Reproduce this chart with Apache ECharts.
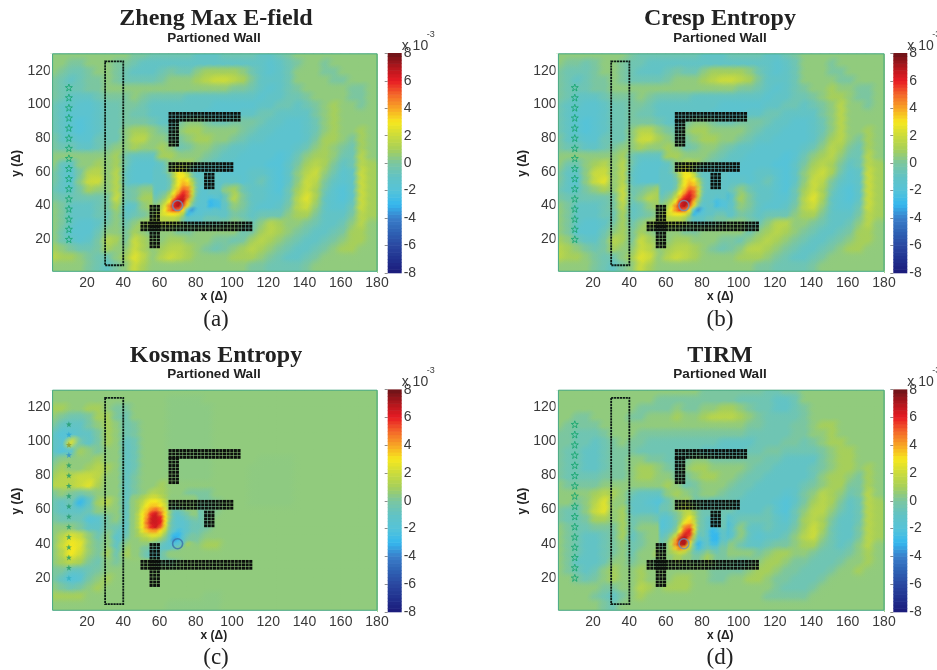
<!DOCTYPE html>
<html><head><meta charset="utf-8">
<style>html,body{margin:0;padding:0;background:#fff}#c{width:937px;height:670px}</style>
<script src="https://cdn.jsdelivr.net/npm/echarts@6/dist/echarts.min.js"></script>
</head><body><div id="c"></div>
<script>
// Field values (x 10^-3). Rows run y=127.5 down to 2.5, columns x=2.5 to 177.5, step 5.
const fieldA=[
[.5,.5,.5,.5,.5,.5,.5,.5,.5,0,0,-.5,-.5,-.5,-.5,-.5,-1,-1,-1,-.5,-.5,-.5,-.5,-1,-1,-.5,0,.5,.5,.5,.5,.5,.5,.5,.5,.5],
[.5,.5,0,0,.5,.5,.5,0,0,-.5,-1,-1,-1,-1,-1,-1,-1,-1,-1,-1,-1,-1,-1,-1,-1.5,-1,-.5,0,.5,.5,0,.5,.5,.5,.5,.5],
[.5,0,-.5,-.5,0,.5,.5,0,-.5,-1,-1,-1,-.5,0,-.5,-.5,.5,1,1,1,1,.5,-.5,-1,-1.5,-1,-.5,.5,.5,.5,0,0,.5,.5,.5,.5],
[0,-.5,-1,-.5,0,0,.5,0,-.5,-.5,-.5,-.5,0,.5,.5,.5,1,1.5,2,2,1.5,1,0,-1,-1,-1,-.5,.5,.5,.5,.5,0,0,.5,.5,.5],
[0,-.5,-.5,-.5,0,0,.5,.5,.5,.5,.5,.5,.5,.5,.5,.5,.5,.5,.5,.5,0,0,-.5,-1,-1.5,-1,-.5,0,.5,.5,.5,.5,.5,0,0,.5],
[0,-.5,-1,-1,-1,-.5,0,0,0,.5,0,-.5,-.5,-.5,-.5,-1,-1,-1,-1,-1,-1,-1,-1,-1.5,-1,-1,-.5,-.5,0,.5,.5,.5,.5,0,0,.5],
[-.5,-1,-1,-1.5,-1.5,-1,-.5,-.5,0,0,-.5,-1,-1,-1,-1,-1,-1,-1,-1.5,-1.5,-1.5,-1.5,-1.5,-1,-1,-.5,-.5,-1,-.5,0,.5,1,.5,.5,0,.5],
[-.5,-1,-1.5,-1.5,-1.5,-1,-.5,-.5,0,-.5,-.5,-1,-1,-1,-1,-1,-1,-1.5,-1.5,-1.5,-1.5,-1,-1,-.5,-.5,-1,-1,-1,-1,0,.5,1,.5,.5,.5,.5],
[-.5,-1,-1.5,-2,-1.5,-1,-.5,-.5,0,0,0,-.5,-1,-1,0,.5,.5,0,-.5,-.5,0,0,0,-.5,-1,-1,-1.5,-1.5,-1,-.5,.5,1,.5,.5,.5,.5],
[-.5,-1,-1.5,-2,-1.5,-1,-.5,-.5,.5,1,1,.5,0,-.5,.5,1,1,.5,.5,.5,.5,0,-.5,-1,-1,-1.5,-1.5,-1.5,-1,-.5,.5,1,.5,.5,1,.5],
[0,-1,-1,-1.5,-1.5,-.5,-.5,-.5,.5,1.5,1.5,.5,.5,0,0,.5,1,1,.5,.5,0,-.5,-1,-1,-1.5,-1.5,-1.5,-1.5,-1,0,1,1,.5,0,1,.5],
[0,-.5,-.5,-1,-1,-.5,0,.5,.5,1,.5,.5,1,.5,-.5,0,.5,.5,0,-.5,-1,-1,-1.5,-1.5,-1.5,-1.5,-1.5,-1,-.5,.5,1,.5,0,-.5,1,.5],
[.5,.5,.5,.5,.5,.5,.5,1,-.5,-1,-1,-1,1,1,.5,.5,.5,0,-.5,-1,-1,-1.5,-1.5,-1.5,-1.5,-2,-1.5,-.5,.5,1,1,.5,-.5,-.5,1.5,.5],
[.5,-1,-1,.5,.5,1,.5,1,-.5,-1.5,-1.5,-1.5,-1,.5,1,1,0,-.5,-1,-1,-1.5,-1.5,-1.5,-1.5,-2,-2,-1,0,1,1.5,1,0,-1,-.5,1.5,1],
[0,-1,-1.5,0,1.5,1.5,.5,1.5,-1,-1.5,-1.5,-1.5,-1,.5,3,2,-.5,-1,-1,-1.5,-1.5,-1.5,-1,-1,-1.5,-2,-1,.5,1.5,2,.5,-.5,-1.5,-1,2,1],
[0,-1,-1.5,.5,2,2,.5,1.5,-1,-1.5,-1.5,-1.5,-1,0,3.5,3,0,-1,-1.5,-1,-1,-1.5,-1,-.5,-1.5,-2,-1,.5,2,1.5,0,-1,-1.5,-1,2,1],
[-.5,-1,-1,0,1,.5,.5,1.5,-.5,0,.5,.5,-.5,1.5,5,3.5,-.5,-1.5,-1.5,.5,1,-.5,-1,-1,-1.5,-2,-.5,1,2,1,-.5,-1.5,-2,-1,2,1],
[0,-.5,-.5,-.5,-.5,-.5,0,2,-.5,0,1,1,0,3.5,7,3,-1,-2,-3,-.5,1.5,0,-1,-1,-1.5,-1.5,-.5,1.5,2.5,1,-1,-1.5,-2,-1,2,1],
[.5,0,-1,-1,-1,-.5,0,1,-1.5,-1,.5,1,0,3,6,2,-2,-3.5,-1.5,-1,.5,0,-1,-1.5,-1.5,-1,0,1.5,2,.5,-1,-1.5,-1.5,-.5,2,1],
[.5,0,-1,-1,-1,-.5,-.5,.5,-1,-.5,0,.5,1,2,2.5,1,-1,-1.5,-1,-1,0,-.5,-1,-.5,-.5,-.5,.5,1,1,0,-1,-1,-1,0,1.5,1],
[.5,0,-1,-1.5,-1.5,-1,0,.5,-.5,.5,1,1,1,1,.5,.5,0,0,0,0,.5,0,-.5,.5,1.5,1,.5,.5,0,-.5,-1,-1,-.5,.5,1.5,.5],
[.5,-.5,-1.5,-1.5,-1.5,-.5,.5,.5,0,1,.5,0,.5,.5,0,0,.5,.5,.5,.5,.5,-.5,0,1,1.5,1,.5,0,-.5,-1,-1,-.5,0,1,1,.5],
[.5,-.5,-1,-1.5,-1,0,1.5,1,0,2,1,.5,.5,1,1,.5,.5,.5,0,0,-.5,0,1,1.5,1,.5,0,-.5,-1,-1,-.5,0,.5,1,1,.5],
[1,.5,0,-.5,-.5,0,1,.5,.5,2,1,.5,1,1.5,1.5,1,.5,0,-.5,0,.5,1,1.5,1,.5,0,-.5,-1,-1,-.5,0,.5,1,1,.5,.5],
[1.5,1,1,.5,0,-.5,-.5,.5,1,2.5,1.5,.5,1.5,2,1.5,1,.5,.5,.5,.5,1,1,1,.5,0,-.5,-1,-1,-.5,0,.5,.5,.5,.5,.5,.5],
[.5,.5,.5,.5,0,-.5,-1,0,.5,2,1,.5,.5,.5,.5,.5,.5,.5,.5,.5,.5,.5,0,0,-.5,-.5,-.5,-.5,0,.5,.5,.5,.5,.5,.5,.5]];
const fieldB=[
[.5,.5,.5,.5,.5,.5,.5,.5,0,-.5,-.5,-.5,-.5,-.5,-.5,-.5,-1,-1,-1,-.5,-.5,-.5,-.5,-1,-1,-.5,0,.5,.5,.5,.5,.5,.5,.5,.5,.5],
[.5,0,0,-.5,0,.5,.5,0,-.5,-.5,-1,-1,-1,-1,-1,-1,-1,-1,-1,-1,-1,-1,-1,-1,-1.5,-1,-.5,.5,.5,.5,0,.5,.5,.5,.5,.5],
[0,-.5,-.5,-.5,0,.5,.5,0,-.5,-1,-1,-1,-.5,0,-.5,-.5,.5,1,1,1,1,.5,-.5,-1,-1.5,-1,-.5,.5,.5,.5,0,0,.5,.5,.5,.5],
[0,-.5,-1,-.5,0,0,.5,0,-.5,-.5,-.5,-.5,0,.5,.5,.5,1,1.5,2,2,1.5,1,0,-1,-1,-1,-.5,.5,.5,.5,.5,0,0,.5,.5,.5],
[0,-.5,-.5,-.5,0,0,.5,.5,.5,.5,.5,.5,.5,.5,.5,.5,.5,.5,.5,.5,0,0,-.5,-1,-1.5,-1,-.5,0,.5,.5,1,.5,.5,0,0,.5],
[0,-.5,-1,-1,-1,-.5,0,0,0,.5,0,-.5,-.5,-.5,-.5,-1,-1,-1,-1,-1,-1,-1,-1,-1.5,-1,-1,-.5,-.5,0,.5,1,1,.5,0,0,.5],
[-.5,-1,-1,-1.5,-1.5,-1,-.5,-.5,0,0,-.5,-1,-1,-1,-1,-1,-1,-1,-1.5,-1.5,-1.5,-1.5,-1.5,-1,-1,-.5,-.5,-1,-.5,0,.5,1.5,.5,.5,0,.5],
[-.5,-1,-1.5,-1.5,-1.5,-1,-.5,-.5,0,-.5,-.5,-1,-1,-1,-1,-1,-1,-1.5,-1.5,-1.5,-1.5,-1,-1,-.5,-.5,-1,-1,-1,-1,0,.5,1.5,.5,.5,.5,.5],
[-.5,-1,-1.5,-2,-1.5,-1,-.5,-.5,0,0,0,-.5,-1,-1,0,.5,.5,0,-.5,-.5,0,0,0,-.5,-1,-1,-1.5,-1.5,-1,-.5,.5,1.5,.5,.5,.5,.5],
[-.5,-1,-1.5,-2,-1.5,-1,-.5,-.5,.5,1.5,1.5,.5,0,-.5,.5,1,1,.5,.5,.5,.5,0,-.5,-1,-1,-1.5,-1.5,-1.5,-1,-.5,.5,1.5,.5,.5,1,.5],
[0,-1,-1,-1.5,-1.5,-.5,-.5,-.5,.5,2,2,1,.5,0,0,.5,1,1,.5,.5,0,-.5,-1,-1,-1.5,-1.5,-1.5,-1.5,-1,0,1,1.5,.5,0,1,.5],
[0,-.5,-.5,-1,-1,-.5,0,.5,.5,1,.5,.5,1,.5,-.5,0,.5,.5,0,-.5,-1,-1,-1.5,-1.5,-1.5,-1.5,-1.5,-1,-.5,.5,1.5,1,0,-.5,1,.5],
[.5,.5,.5,.5,.5,.5,.5,1,-.5,-1,-1,-1,1,1,.5,.5,.5,0,-.5,-1,-1,-1.5,-1.5,-1.5,-1.5,-2,-1.5,-.5,.5,1,1.5,.5,-.5,-.5,1.5,.5],
[.5,-.5,-.5,.5,1,1.5,.5,1.5,-.5,-1.5,-1.5,-1.5,-1,.5,1.5,1,0,-.5,-1,-1,-1.5,-1.5,-1.5,-1.5,-2,-2,-1,0,1,1.5,1,0,-1,-.5,1.5,1],
[0,-1,-1,.5,2,2,.5,1.5,-1,-1.5,-1.5,-1.5,-1,1,3,2,-.5,-1,-1,-1.5,-1.5,-1.5,-1,-1,-1.5,-2,-1,.5,1.5,2,1,-.5,-1.5,-1,2,1],
[0,-1,-1.5,.5,2,2.5,.5,1.5,-1,-1.5,-1.5,-1.5,-1,0,3.5,3,0,-1,-1.5,-1,-1,-1.5,-1,-.5,-1.5,-2,-1,.5,2,1.5,0,-1,-1.5,-1,2,1],
[-.5,-1,-1,0,.5,1,.5,2,-.5,0,.5,1,-.5,1.5,5,3.5,-.5,-1.5,-1.5,-.5,.5,-.5,-1,-1,-1.5,-2,-.5,1,2,1,-.5,-1.5,-2,-1,2,1],
[0,-.5,-.5,-.5,-.5,-.5,0,2,-.5,.5,1.5,1,0,3.5,7,3,-1,-1.5,-3,-1,1,0,-1,-1,-1.5,-1.5,-.5,1.5,2.5,1,-1,-1.5,-2,-1,2,1],
[.5,0,-1,-1,-1,-.5,0,1.5,-1,-.5,.5,1,0,3,6,2,-2,-3.5,-1.5,-1,.5,0,-1,-1.5,-1.5,-1,0,1.5,2,.5,-1,-1.5,-1.5,-.5,2,1],
[.5,0,-1,-1,-1,-.5,-.5,1,-1,-.5,0,.5,1.5,2,2.5,1,-1,-1.5,-1,-1,0,-.5,-1,-.5,-.5,-.5,.5,1,1,0,-1,-1,-1,0,1.5,1],
[.5,0,-1,-1.5,-1.5,-1,0,1,-.5,.5,1,1,1,1,.5,.5,0,0,.5,.5,.5,0,-.5,.5,1.5,1.5,.5,.5,0,-.5,-1,-1,-.5,.5,1.5,.5],
[.5,0,-1.5,-1.5,-1.5,-.5,.5,1,0,1,.5,0,.5,.5,0,0,.5,.5,.5,.5,.5,-.5,.5,1,1.5,1,.5,0,-.5,-1,-1,-.5,0,1,1,.5],
[1,.5,-.5,-1,-1,0,1.5,1,0,2,1,.5,.5,1,1,.5,.5,.5,0,0,-.5,.5,1,1.5,1,.5,0,-.5,-1,-1,-.5,0,.5,1,1,.5],
[1.5,1,.5,0,-.5,0,1,.5,.5,2,1.5,.5,1,1.5,1.5,1,.5,0,-.5,0,.5,1.5,1.5,1,.5,0,-.5,-1,-1,-.5,0,.5,1,1,.5,.5],
[1.5,1,1,.5,0,-.5,-.5,.5,1,2.5,2,.5,1.5,2,1.5,1,.5,.5,.5,.5,1,1,1,.5,0,-.5,-1,-1,-.5,0,.5,.5,.5,.5,.5,.5],
[.5,.5,.5,.5,0,-.5,-1,0,.5,2,1,.5,.5,.5,.5,.5,.5,.5,.5,.5,.5,.5,0,0,-.5,-.5,-.5,-.5,0,.5,.5,.5,.5,.5,.5,.5]];
const fieldC=[
[.5,.5,.5,.5,.5,.5,.5,.5,.5,.5,.5,.5,.5,.5,.5,.5,.5,.5,.5,.5,.5,.5,.5,.5,.5,.5,.5,.5,.5,.5,.5,.5,.5,.5,.5,.5],
[.5,.5,.5,.5,.5,.5,.5,.5,.5,.5,.5,.5,.5,.4,.4,.4,.4,.5,.5,.5,.5,.5,.5,.5,.5,.5,.5,.5,.5,.5,.5,.5,.5,.5,.5,.5],
[1,1,.5,.5,1,1,.5,0,0,.5,.5,.5,.5,.4,.4,.4,.4,.4,.5,.5,.5,.5,.5,.5,.5,.5,.5,.5,.5,.5,.5,.5,.5,.5,.5,.5],
[.5,0,-.5,-.5,0,1,1,0,-.5,.5,.5,.5,.5,.4,.4,.4,.4,.4,.5,.5,.5,.5,.5,.5,.5,.5,.5,.5,.5,.5,.5,.5,.5,.5,.5,.5],
[0,-1,-1,-1,0,.5,1,.5,-.5,0,.5,.5,.5,.4,.4,.4,.4,.4,.5,.5,.5,.5,.5,.5,.5,.5,.5,.5,.5,.5,.5,.5,.5,.5,.5,.5],
[-1,-2,-1.5,-1,-1,0,1,.5,-.5,0,.5,.5,.5,.4,.4,.4,.4,.4,.5,.5,.5,.5,.5,.5,.5,.5,.5,.5,.5,.5,.5,.5,.5,.5,.5,.5],
[-1,-1.5,2.5,-.5,-1,0,1,.5,-1,-.5,.5,.5,.5,.4,.4,.4,.4,.4,.5,.5,.5,.5,.5,.5,.5,.5,.5,.5,.5,.5,.5,.5,.5,.5,.5,.5],
[-1,-2,-1.5,1,.5,0,.5,.5,-1,-.5,.5,.5,.5,.4,.4,.4,.4,.4,.5,.5,.5,.5,.5,.5,.5,.5,.5,.5,.5,.5,.5,.5,.5,.5,.5,.5],
[0,.5,.5,.5,.5,1,.5,.5,-1,-.5,.5,.5,.5,.4,.4,.4,.4,.4,.5,.5,.5,.5,.5,.45,.45,.45,.45,.5,.5,.5,.5,.5,.5,.5,.5,.5],
[.5,1,.5,.5,1,1.5,1,.5,-1,-.5,.5,.5,.5,.4,.4,.4,.4,.4,.5,.5,.5,.5,.45,.45,.45,.45,.45,.5,.5,.5,.5,.5,.5,.5,.5,.5],
[1,1.5,1.5,2,2,1.5,.5,.5,-1,0,.5,.5,.5,.5,.4,.4,.4,.4,.5,.5,.5,.5,.45,.45,.45,.45,.45,.5,.5,.5,.5,.5,.5,.5,.5,.5],
[1.5,1.5,1.5,2,2.5,1,.5,.5,-1,0,.5,.5,1,.5,.5,.5,.5,.5,.5,.5,.5,.5,.45,.45,.45,.45,.45,.5,.5,.5,.5,.5,.5,.5,.5,.5],
[0,.5,0,-.5,0,.5,.5,.5,-1,0,.5,1.5,1,.5,.5,0,0,0,.5,.5,.5,.5,.45,.45,.45,.45,.45,.5,.5,.5,.5,.5,.5,.5,.5,.5],
[-.5,-1,-.5,-3,-1,1,1.5,.5,-1,.5,2,3.5,1.5,0,-.5,-.5,0,0,.25,.5,.5,.5,.45,.45,.45,.45,.45,.5,.5,.5,.5,.5,.5,.5,.5,.5],
[-.5,-1,-1,-1,-.5,.5,.5,.5,-1,.5,3,6,2.5,-.5,-1,-1,-.5,0,.25,.5,.5,.5,.5,.5,.5,.5,.5,.5,.5,.5,.5,.5,.5,.5,.5,.5],
[0,-.5,-.5,-.5,-2,-1.5,0,.5,-1,.5,3,6,3,-1,-1.5,-1,-.5,0,.5,.5,.5,.5,.5,.5,.5,.5,.5,.5,.5,.5,.5,.5,.5,.5,.5,.5],
[.5,.5,.5,0,-1,-1,0,-.5,-1,.5,1.5,2,1,-1.5,-1.5,-1,-.5,0,.5,.5,.5,.5,.5,.5,.5,.5,.5,.5,.5,.5,.5,.5,.5,.5,.5,.5],
[.5,1.5,2.5,2,.5,-.5,.5,-1.5,-.5,.5,1,1,0,-2.5,-1,-.5,0,.5,.5,.5,.5,.5,.5,.5,.5,.5,.5,.5,.5,.5,.5,.5,.5,.5,.5,.5],
[.5,2,3,2.5,.5,0,.5,-1,.5,1,.5,.5,-1,-3.5,-1.5,0,.5,1,1,.5,.5,.5,.5,.5,.5,.5,.5,.5,.5,.5,.5,.5,.5,.5,.5,.5],
[.5,1.5,3,2,.5,0,1,-.5,1,1,.5,.5,-.5,-1,0,.5,.5,.5,.5,.5,.5,.5,.5,.5,.5,.5,.5,.5,.5,.5,.5,.5,.5,.5,.5,.5],
[.5,1,1.5,1,0,-.5,.5,0,.5,.5,.5,.5,0,0,.5,.5,.5,.5,.5,.5,.5,.5,.5,.5,.5,.5,.5,.5,.5,.5,.5,.5,.5,.5,.5,.5],
[0,0,-1,-1,-.5,0,.5,.5,.5,.5,.5,.5,.5,.5,.5,.5,.5,.5,.5,.5,.5,.5,.5,.5,.5,.5,.5,.5,.5,.5,.5,.5,.5,.5,.5,.5],
[0,-1,-2,-1.5,0,.5,1,.5,.5,.5,.5,.5,.5,.5,.5,.5,.5,.5,.5,.5,.5,.5,.5,.5,.5,.5,.5,.5,.5,.5,.5,.5,.5,.5,.5,.5],
[.5,0,-.5,0,.5,1,.5,.5,.5,.5,.5,.5,.5,.5,.5,.5,.5,.5,.5,.5,.5,.5,.5,.5,.5,.5,.5,.5,.5,.5,.5,.5,.5,.5,.5,.5],
[1,1,1,1,.5,.5,.5,.5,.5,.5,.5,.5,.5,.5,.5,.5,.5,.4,.4,.5,.5,.5,.5,.5,.5,.5,.5,.5,.5,.5,.5,.5,.5,.5,.5,.5],
[.5,.5,.5,.5,.5,.5,.5,.5,.5,.5,.5,.5,.5,.4,.4,.4,.4,.4,.4,.5,.5,.5,.5,.5,.5,.5,.5,.5,.5,.5,.5,.5,.5,.5,.5,.5]];
const fieldD=[
[.5,.5,.5,.5,.5,.5,.5,.5,.5,.5,.5,.5,.5,.5,.5,.5,0,0,0,0,0,0,0,-.5,-.5,0,0,.5,.5,.5,.5,.5,.5,.5,.5,.5],
[.5,.5,.5,.5,.5,.5,.5,.5,.5,.5,.5,0,0,0,0,0,0,0,0,0,-.5,-.5,-.5,-.5,-1,-1,-.5,.5,.5,.5,.5,.5,.5,.5,.5,.5],
[.5,.5,.5,.5,.5,.5,.5,.5,.5,0,0,0,0,.5,0,0,.5,.5,1,1,.5,0,-.5,-.5,-1,-1,-.5,0,.5,.5,.5,.5,.5,.5,.5,.5],
[.5,.5,0,0,.5,.5,.5,.5,0,0,.5,.5,.5,1,.5,.5,1,1.5,1.5,1.5,1,.5,0,-.5,-.5,-.5,-.5,0,.5,.5,.5,.5,.5,.5,.5,.5],
[.5,0,0,0,0,.5,.5,.5,.5,.5,.5,.5,.5,.5,.5,.5,.5,.5,.5,.5,.5,0,0,-.5,-.5,-.5,0,0,.5,1,1,.5,.5,.5,.5,.5],
[0,0,-.5,-.5,-.5,0,.5,.5,.5,0,0,0,0,0,0,0,0,0,0,0,0,-.5,-.5,-.5,-.5,-.5,0,0,.5,.5,1,.5,.5,.5,.5,.5],
[0,0,-.5,-.5,-1,-.5,0,.5,0,0,-.5,-.5,-.5,-.5,-.5,-.5,-.5,-.5,-1,-1,-1,-1,-.5,-.5,-.5,0,0,-.5,0,.5,1,1,.5,.5,.5,.5],
[0,-.5,-.5,-1,-1,-.5,0,0,0,-.5,-.5,-.5,-.5,-.5,-.5,-.5,-1,-1,-1,-1,-1,-.5,-.5,0,0,-.5,-.5,-.5,-.5,0,.5,1,1,.5,.5,.5],
[0,-.5,-.5,-1,-1,-.5,0,0,.5,.5,0,0,-.5,-.5,0,.5,.5,0,0,0,0,0,0,-.5,-.5,-1,-1,-1,-1,0,.5,1,1,.5,.5,.5],
[0,-.5,-.5,-1,-1,-.5,0,0,.5,1,1,.5,0,-.5,.5,1,1,.5,.5,.5,.5,0,-.5,-.5,-1,-1,-1,-1,-.5,0,.5,1,1,.5,1,.5],
[0,-.5,-.5,-.5,-.5,0,0,0,.5,1,1,.5,.5,0,0,.5,1,1,.5,.5,0,-.5,-.5,-1,-1,-1,-1,-1,-.5,.5,1,1,.5,0,1,.5],
[.5,0,0,0,0,.5,.5,.5,.5,.5,.5,.5,1,.5,-.5,0,.5,.5,.5,0,-.5,-.5,-1,-1,-1,-1,-1,-.5,0,.5,1,1,0,0,1,.5],
[.5,.5,.5,.5,1,1.5,1,.5,-.5,-1,-1,-1,.5,1,.5,0,.5,.5,0,-.5,-.5,-1,-1,-1,-1,-1.5,-1,0,.5,1.5,1,.5,-.5,0,1.5,.5],
[.5,.5,0,.5,1.5,2.5,.5,.5,-1,-1,-1.5,-2,-.5,.5,1,-.5,-.5,-1,-.5,-.5,-1,-1,-1,-1,-1.5,-2,-1,0,1,1.5,1,0,-1,-.5,1.5,1],
[0,-.5,-.5,.5,2,2.5,.5,1,-1,-1,-1,-1.5,-.5,.5,3,1,-1,-.5,0,-.5,-1,-1,-1,-.5,-1.5,-2,-.5,.5,1.5,1.5,.5,-.5,-1,-.5,1.5,1],
[0,-.5,-.5,0,1,1,.5,1,-.5,0,0,-.5,-.5,1.5,4.5,1.5,-.5,-1,-2.5,-1,-.5,-.5,-.5,-.5,-1,-1.5,-.5,1,1.5,1,0,-1,-1,-.5,1.5,1],
[.5,0,-.5,-.5,0,0,0,1,-.5,.5,.5,.5,0,2.5,5.5,1,-.5,-2.5,-3,-1,.5,-1,-1,-.5,-1,-1,0,1,2,1,-.5,-1,-1,0,1.5,1],
[.5,0,-.5,-1,-1,-.5,0,1,-1,0,.5,.5,0,4,6,.5,-2.5,-1,-2.5,-1,.5,-1,-1.5,-1,-1,-.5,.5,1.5,2,.5,-.5,-1,-1,0,1.5,1],
[.5,0,-.5,-1,-1,-.5,0,.5,-.5,0,.5,.5,.5,2,2,.5,-.5,0,-.5,.5,-.5,-1,-1,-.5,0,0,.5,1,1,0,-.5,-1,-.5,.5,1.5,.5],
[.5,0,-.5,-1,-1,-.5,0,.5,-.5,.5,.5,1,.5,.5,.5,.5,.5,.5,.5,.5,.5,.5,0,.5,1,1,.5,.5,0,-.5,-.5,-.5,0,.5,1,.5],
[.5,0,-1,-1,-1,-.5,.5,.5,0,.5,.5,0,.5,.5,.5,.5,.5,.5,0,0,-.5,0,.5,1,1,.5,0,0,-.5,-.5,-.5,0,.5,.5,1,.5],
[.5,0,-.5,-1,-.5,.5,1,.5,.5,1,.5,.5,.5,.5,.5,.5,.5,0,0,0,0,.5,1,1,.5,0,0,-.5,-.5,-.5,0,.5,.5,1,.5,.5],
[.5,.5,0,-.5,0,.5,1,.5,.5,1,.5,.5,.5,1,1,.5,.5,0,0,.5,.5,1,1,.5,0,0,-.5,-.5,-.5,0,.5,.5,.5,.5,.5,.5],
[.5,.5,.5,.5,.5,0,0,.5,.5,1.5,1,.5,1,1,1,.5,.5,.5,.5,.5,.5,.5,.5,.5,0,-.5,-.5,-.5,0,.5,.5,.5,.5,.5,.5,.5],
[.5,.5,.5,.5,0,-.5,-1,0,.5,1,.5,.5,.5,.5,.5,.5,.5,.5,.5,.5,.5,.5,.5,0,0,0,0,0,.5,.5,.5,.5,.5,.5,.5,.5],
[.5,.5,.5,.5,.5,0,-.5,.5,.5,.5,.5,.5,.5,.5,.5,.5,.5,.5,.5,.5,.5,.5,.5,.5,.5,.5,.5,.5,.5,.5,.5,.5,.5,.5,.5,.5]];

// Finer readings around the main hot spot, 2.5 x 2.5 cells
const peakA=[
[-1,-1,-.5,.5,1,1.5,1.5,.5,-.5,-1,-1,-1,-1,-1],
[-1,-1,-.5,.5,1.5,3,2.5,1,-.5,-1,-1,-1,-1,-1],
[-1,-1,-1,0,1.5,3,3,2,0,-1,-1,-1,-1,-1],
[-1,-1,-1,-.5,1,3,3.5,3,1,-.5,-1,-1,-1,-1],
[-1,-1,-1,-.5,1.5,3,4,3.5,1.5,-.5,-1,-1,-1,-1],
[-1,-1,-1,0,2,3.5,5,4.5,2,-.5,-1.5,-1.5,-1,-1],
[-1,-.5,0,1,3,4.5,6,5,2,-.5,-1.5,-1.5,-1,-1],
[-.5,0,.5,2,4,6,6.5,5,1.5,-1,-1.5,-1.5,-2,-1.5],
[0,.5,1.5,3,6,7,6.5,3.5,.5,-1,-1.5,-1.5,-3,-2.5],
[.5,1,2.5,4.5,6.5,7,5,2.5,-.5,-1.5,-1.5,-1.5,-3,-2.5],
[.5,1.5,3,4.5,5.5,5,3,-2,-3.5,-2,-1.5,-1.5,-1.5,-1],
[1,2,2.5,3,3,2.5,1,-3,-2,-1.5,-1.5,-1,-1,-1],
[1,1.5,1.5,1.5,1.5,1,0,-1,-1,-1,-1,-.5,-.5,-.5]];
const peakB=[
[-1,-1,-.5,.5,1.5,2,1.5,.5,-.5,-1,-1,-1,-1,-1],
[-1,-1,-.5,.5,2,3,2.5,1,-.5,-1,-1,-1,-1,-1],
[-1,-1,-1,0,1.5,3,3,2,0,-1,-1,-1,-1,-1],
[-1,-1,-1,-.5,1,3,3.5,3,1,-.5,-1,-1,-1,-1],
[-1,-1,-1,-.5,1.5,3,4,3.5,1.5,-.5,-1,-1,-1,-1],
[-1,-1,-1,0,2,3.5,5,4.5,2,-.5,-1,-1,-1,-1],
[-1,-.5,0,1,3,4.5,6,5,2,-.5,-1,-1,-1,-1],
[-.5,0,.5,2,4,6,6.5,5,1.5,-1,-1,-1,-1.5,-1],
[0,.5,1.5,3,6,7,6.5,3.5,.5,-1,-1,-1.5,-2.5,-2],
[.5,1,2.5,4.5,6.5,7,5,2.5,-.5,-1.5,-1,-1,-2.5,-2],
[.5,1.5,3,4.5,5.5,5,3,-2,-3.5,-2,-1,-1,-1,-1],
[1,2,2.5,3,3,2.5,1,-3,-2,-1.5,-1,-1,-.5,-.5],
[1,1.5,1.5,1.5,1.5,1,0,-1,-1,-1,-.5,-.5,0,0]];
const peakC=[
[.5,.5,1,1.5,2,2,1.5,1,.5,.5,.5,.5,.5,.5],
[.5,1,1.5,2.5,3,3,2.5,1.5,.5,.5,.5,.5,.5,.5],
[.5,1,2,3,3.5,3.5,3,2,.5,0,.5,.5,.5,.5],
[.5,1,2.5,3.5,4.5,5,4,2.5,.5,-.5,-.5,0,.5,.5],
[.5,1.5,3,4,6,6.5,5,3,.5,-1,-1,-.5,0,.5],
[.5,1.5,3,4.5,6.5,6.5,6,3,.5,-1,-1.5,-1,-.5,0],
[.5,1.5,3,5,6.5,6.5,6,3,0,-1,-1.5,-1.5,-1,-.5],
[.5,1.5,3,4.5,6,6.5,5,2.5,0,-1,-1.5,-1.5,-1,-.5],
[.5,1,2.5,3.5,4,4,3,1.5,-.5,-1.5,-2.5,-1.5,-1,-.5],
[.5,1,1.5,2,2.5,2.5,2,.5,-1,-3,-3,-1.5,-.5,0],
[.5,.5,1,1,1.5,1,.5,0,-1.5,-3.5,-2.5,-1,0,0],
[.5,.5,.5,.5,0,0,-.5,-1,-1.5,-2,-1.5,-.5,1,.5],
[.5,.5,0,0,-.5,-.5,-1,-1,-1,-.5,0,.5,.5,.5],
[.5,.5,0,-.5,-1,-1,-.5,0,.5,.5,.5,.5,.5,.5]];
const peakD=[
[-.5,-.5,0,.5,1,1.5,1,.5,0,-.5,-.5,-.5,-.5,-.5],
[-.5,-.5,0,.5,1,1.5,1.5,.5,0,-.5,-.5,-.5,-.5,-.5],
[-1,-1,-.5,0,.5,1.5,2,1,0,-.5,-.5,-.5,-.5,-.5],
[-1.5,-1.5,-1,0,.5,2,3,1.5,0,-.5,-1,-1,-1,-.5],
[-2,-1.5,-1,-.5,1,3,3.5,2,0,-.5,-1,-1.5,-1,-.5],
[-2,-1.5,-1,0,2,4.5,5,2.5,0,-.5,-1,-2,-1.5,-.5],
[-1.5,-1,-.5,.5,3,5.5,6,2.5,-.5,-.5,-1.5,-3,-2.5,-1],
[-1,-.5,.5,2,5,6.5,5.5,1.5,-1,-.5,-1.5,-3,-3,-1],
[-.5,0,1.5,4,7,7,4,.5,-2,-1,-1,-3,-3,-1],
[-.5,.5,2,4.5,7,7,3,-.5,-3,-1.5,-1,-2.5,-2.5,-.5],
[0,.5,1.5,3.5,4.5,3.5,1.5,-.5,-2.5,-1,-.5,-1,-1,0],
[.5,.5,1,1.5,2,1.5,.5,-.5,-.5,0,.5,0,-.5,0],
[.5,.5,.5,1,1,.5,.5,0,0,.5,1,.5,0,0]];
const peakLeft=[57.5,57.5,45,57.5];
const peakTop=[62.5,62.5,67.5,62.5];

const xTicks=[20,40,60,80,100,120,140,160,180];
const yTicks=[20,40,60,80,100,120];
const barTicks=[-8,-6,-4,-2,0,2,4,6,8];
const starY=[20,26,32,38,44,50,56,62,68,74,80,86,92,98,104,110];
const starX=10;
const source=[70,40];
const hallBox=[30,40,4.6,125.5];
const walls=[[65,105,89.5,95.5],[65,70.5,74.7,89.5],[65,100,59.7,65.2],[84.6,90.5,49.4,59.7],[49.5,110.4,24.5,30.2],[54.5,60.4,14.4,40.3]];
const frameBox=[1,180,1,130];
const outsideFrame=[[0,1,0,130],[0,180,0,1]];
const titles=['Zheng Max E-field','Cresp Entropy','Kosmas Entropy','TIRM'];
const captions=['(a)','(b)','(c)','(d)'];
const fields=[fieldA,fieldB,fieldC,fieldD];
const peaks=[peakA,peakB,peakC,peakD];
const jet=['#1b1a7a','#21318f','#2a48a0','#2f62b4','#3a7fca','#35b8ee','#55c3d8','#62c3c5','#7bc6a0','#a6cf5a','#cadb3c','#f6e81e','#f8a625','#f3672a','#e81c24','#b1161c','#6a1418'];
const cStarColors={104:'#2aa6d8',98:'#8a9a30',92:'#2a8fd0',20:'#2fb0c0'};

const pos=[
 {l:50.75,r:377,t:53.8,b:273,bx:387.7,cx:216,sx:214,ty:19,sy:38,capy:320,ey:46},
 {l:556.6,r:884,t:53.8,b:273,bx:893.3,cx:720,sx:720,ty:19,sy:38,capy:320,ey:46},
 {l:50.75,r:377,t:390.2,b:612,bx:387.7,cx:216,sx:214,ty:356,sy:374,capy:658,ey:382},
 {l:556.6,r:884,t:390.2,b:612,bx:893.3,cx:720,sx:720,ty:356,sy:374,capy:658,ey:382}];
const W=937,H=670;
const tickFont={fontFamily:'Liberation Sans',fontSize:14,color:'#3a3a3a'};
const STAR='path://M50 2 L62 37 L98 37 L69 59 L80 95 L50 73 L20 95 L31 59 L2 37 L38 37 Z';

const grid=[],xAxis=[],yAxis=[],series=[],graphic=[],vmIdx=[];
function softCell(size,scale){
  return function(_,api){
    const c=api.coord([api.value(0),api.value(1)]),s=api.size([size,size]),col=api.visual('color');
    const r=s[0]*scale;
    return {type:'circle',shape:{cx:c[0],cy:c[1],r},style:{fill:new echarts.graphic.RadialGradient(.5,.5,.5,[
      {offset:0,color:col},{offset:.45,color:echarts.color.modifyAlpha(col,.8)},{offset:1,color:echarts.color.modifyAlpha(col,0)}])}};
  };
}
const barLevels=[];for(let v=-8;v<8;v+=0.25)barLevels.push([0,v+0.125,v+0.125]);

pos.forEach((p,i)=>{
  const g=i*2;
  grid.push({left:p.l,top:p.t,width:p.r-p.l,height:p.b-p.t});
  grid.push({left:p.bx,top:p.t-.5,width:14,height:p.b-p.t+.5});
  xAxis.push({type:'value',gridIndex:g,min:0,max:180,interval:20,splitLine:{show:false},axisLine:{show:false},axisTick:{show:false},
    axisLabel:Object.assign({margin:3,showMinLabel:false},tickFont),
    name:'x (\u0394)',nameLocation:'middle',nameGap:17,nameTextStyle:{fontFamily:'Liberation Sans',fontWeight:'bold',fontSize:12,color:'#222'}});
  yAxis.push({type:'value',gridIndex:g,min:0,max:130,interval:20,splitLine:{show:false},axisLine:{show:false},axisTick:{show:false},
    axisLabel:Object.assign({margin:0,showMinLabel:false,showMaxLabel:false,formatter:v=>yTicks.includes(v)?String(v):''},tickFont),
    name:'y (\u0394)',nameLocation:'middle',nameGap:28,nameTextStyle:{fontFamily:'Liberation Sans',fontWeight:'bold',fontSize:12,color:'#222'}});
  xAxis.push({type:'value',gridIndex:g+1,min:0,max:1,show:false});
  yAxis.push({type:'value',gridIndex:g+1,min:-8,max:8,interval:2,position:'right',splitLine:{show:false},axisLine:{show:false},
    axisTick:{show:true,inside:true,length:3,lineStyle:{color:'#444',width:.6}},
    axisLabel:Object.assign({margin:2},tickFont)});
  const data=[];
  fields[i].forEach((row,r)=>row.forEach((v,c)=>data.push([2.5+5*c,127.5-5*r,v])));
  const pdata=[];
  peaks[i].forEach((row,r)=>row.forEach((v,c)=>pdata.push([peakLeft[i]+1.25+2.5*c,peakTop[i]-1.25-2.5*r,v])));
  // base cells
  vmIdx.push(series.length);
  series.push({type:'custom',xAxisIndex:g,yAxisIndex:g,clip:true,silent:true,progressive:0,encode:{x:0,y:1},data,
    renderItem(_,api){
      const c=api.coord([api.value(0),api.value(1)]),s=api.size([5,5]);
      return {type:'rect',shape:{x:c[0]-s[0]/2-.5,y:c[1]-s[1]/2-.5,width:s[0]+1,height:s[1]+1},style:{fill:api.visual('color')}};
    }});
  // soft blend of each cell into its neighbours
  vmIdx.push(series.length);
  series.push({type:'custom',xAxisIndex:g,yAxisIndex:g,clip:true,silent:true,progressive:0,encode:{x:0,y:1},data,renderItem:softCell(5,1.25)});
  vmIdx.push(series.length);
  series.push({type:'custom',xAxisIndex:g,yAxisIndex:g,clip:true,silent:true,progressive:0,encode:{x:0,y:1},data:pdata,renderItem:softCell(2.5,1.35)});
  // white margin between the axis origin and the field edge
  series.push({type:'custom',xAxisIndex:g,yAxisIndex:g,silent:true,z:3,encode:{x:0,y:2},data:outsideFrame,
    renderItem(_,api){
      const a=api.coord([api.value(0),api.value(3)]),b=api.coord([api.value(1),api.value(2)]);
      return {type:'rect',shape:{x:a[0]-1,y:a[1],width:b[0]-a[0]+1,height:b[1]-a[1]+1},style:{fill:'#fff'}};
    }});
  // frame
  series.push({type:'custom',xAxisIndex:g,yAxisIndex:g,silent:true,z:3,encode:{x:0,y:1},data:[frameBox],
    renderItem(_,api){
      const a=api.coord([api.value(0),api.value(3)]),b=api.coord([api.value(1),api.value(2)]);
      return {type:'rect',shape:{x:a[0],y:a[1],width:b[0]-a[0],height:b[1]-a[1]},style:{fill:'none',stroke:'#47a883',lineWidth:1}};
    }});
  // tall wall outline
  series.push({type:'custom',xAxisIndex:g,yAxisIndex:g,silent:true,z:4,encode:{x:0,y:2},data:[hallBox],
    renderItem(_,api){
      const a=api.coord([api.value(0),api.value(3)]),b=api.coord([api.value(1),api.value(2)]);
      return {type:'rect',shape:{x:a[0],y:a[1],width:b[0]-a[0],height:b[1]-a[1]},style:{fill:'none',stroke:'#0b1a14',lineWidth:1.8,lineDash:[2.2,.7]}};
    }});
  // solid obstacles, built of small square tiles
  const tiles=[];
  walls.forEach(w=>{for(let x=w[0];x<w[1]-.5;x+=2)for(let y=w[2];y<w[3]-.5;y+=2)tiles.push([x,y]);});
  series.push({type:'custom',xAxisIndex:g,yAxisIndex:g,silent:true,z:4,progressive:0,encode:{x:0,y:1},data:tiles,
    renderItem(_,api){
      const a=api.coord([api.value(0),api.value(1)+2]),s=api.size([2,2]);
      return {type:'rect',shape:{x:a[0],y:a[1],width:s[0]-.5,height:s[1]-.5},style:{fill:'#0c0f0c'}};
    }});
  // stars
  const filled=i===2;
  series.push({type:'scatter',xAxisIndex:g,yAxisIndex:g,silent:true,z:5,symbol:STAR,symbolSize:filled?6:7,
    data:starY.map(y=>({value:[starX,y],itemStyle:filled?{color:cStarColors[y]||'#1f9a6a',borderWidth:0}:{color:'rgba(0,0,0,0)',borderColor:'#12a56c',borderWidth:1}}))});
  // source
  series.push({type:'scatter',xAxisIndex:g,yAxisIndex:g,silent:true,z:5,symbol:'circle',symbolSize:10,data:[source],
    itemStyle:{color:'rgba(0,0,0,0)',borderColor:filled?'#3b6fa8':'#6f8fb8',borderWidth:1.6}});
  // colour bar
  vmIdx.push(series.length);
  series.push({type:'custom',xAxisIndex:g+1,yAxisIndex:g+1,silent:true,progressive:0,encode:{x:0,y:1},data:barLevels,
    renderItem(_,api){
      const a=api.coord([0,api.value(1)+.125]),b=api.coord([1,api.value(1)-.125]);
      return {type:'rect',shape:{x:a[0],y:a[1]-.3,width:b[0]-a[0],height:b[1]-a[1]+.6},style:{fill:api.visual('color')}};
    }});
  // texts
  graphic.push({type:'text',x:p.cx,y:p.ty,style:{text:titles[i],fontFamily:'Liberation Serif',fontWeight:'bold',fontSize:24,fill:'#222',textAlign:'center',textVerticalAlign:'middle'}});
  graphic.push({type:'text',x:p.sx,y:p.sy,style:{text:'Partioned Wall',fontFamily:'Liberation Sans',fontWeight:'bold',fontSize:13.5,fill:'#222',textAlign:'center',textVerticalAlign:'middle'}});
  graphic.push({type:'text',x:p.cx,y:p.capy,style:{text:captions[i],fontFamily:'Liberation Serif',fontSize:23,fill:'#222',textAlign:'center',textVerticalAlign:'middle'}});
  graphic.push({type:'text',x:p.bx+14,y:p.ey,style:{text:'x 10',fontFamily:'Liberation Sans',fontSize:14,fill:'#3a3a3a',textVerticalAlign:'middle'}});
  graphic.push({type:'text',x:p.bx+39,y:p.ey-11,style:{text:'-3',fontFamily:'Liberation Sans',fontSize:9,fill:'#3a3a3a',textVerticalAlign:'middle'}});
});
const chart=echarts.init(document.getElementById('c'),null,{renderer:'canvas',width:W,height:H});
chart.setOption({animation:false,backgroundColor:'#fff',grid,xAxis,yAxis,series,graphic,
  visualMap:[{type:'continuous',show:false,min:-8,max:8,dimension:2,seriesIndex:vmIdx,inRange:{color:jet}}]});
</script></body></html>
